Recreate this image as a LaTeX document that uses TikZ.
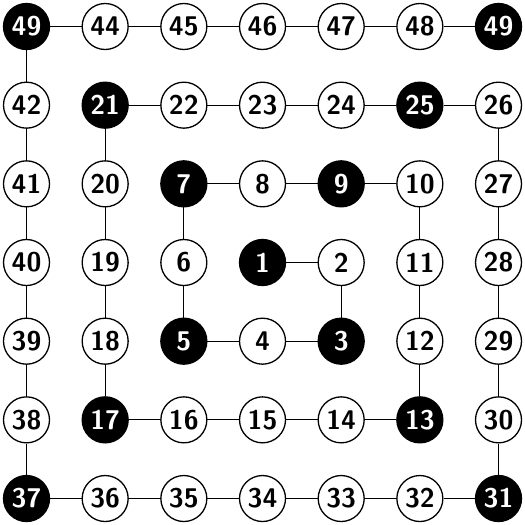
\documentclass[tikz,border=0pt]{standalone}
\begin{document}
\begin{tikzpicture}[x=1pt,y=-1pt,
  cell/.style={circle,draw=black,line width=1.3pt,minimum size=46pt,inner sep=0pt,
    font=\sffamily\bfseries\fontsize{27}{27}\selectfont},
  wn/.style={cell,fill=white,text=black},
  bn/.style={cell,fill=black,text=white},
  link/.style={line width=1.2pt}]
\useasboundingbox (0,0) rectangle (525,525);
\def\s{78.67}
\foreach \c/\r/\l/\n/\t in {
  0/0/49/n49a/bn, 1/0/44/n44/wn, 2/0/45/n45/wn, 3/0/46/n46/wn, 4/0/47/n47/wn, 5/0/48/n48/wn, 6/0/49/n49b/bn,
  0/1/42/n42/wn, 1/1/21/n21/bn, 2/1/22/n22/wn, 3/1/23/n23/wn, 4/1/24/n24/wn, 5/1/25/n25/bn, 6/1/26/n26/wn,
  0/2/41/n41/wn, 1/2/20/n20/wn, 2/2/7/n7/bn, 3/2/8/n8/wn, 4/2/9/n9/bn, 5/2/10/n10/wn, 6/2/27/n27/wn,
  0/3/40/n40/wn, 1/3/19/n19/wn, 2/3/6/n6/wn, 3/3/1/n1/bn, 4/3/2/n2/wn, 5/3/11/n11/wn, 6/3/28/n28/wn,
  0/4/39/n39/wn, 1/4/18/n18/wn, 2/4/5/n5/bn, 3/4/4/n4/wn, 4/4/3/n3/bn, 5/4/12/n12/wn, 6/4/29/n29/wn,
  0/5/38/n38/wn, 1/5/17/n17/bn, 2/5/16/n16/wn, 3/5/15/n15/wn, 4/5/14/n14/wn, 5/5/13/n13/bn, 6/5/30/n30/wn,
  0/6/37/n37/bn, 1/6/36/n36/wn, 2/6/35/n35/wn, 3/6/34/n34/wn, 4/6/33/n33/wn, 5/6/32/n32/wn, 6/6/31/n31/bn}
  { \node[\t] (\n) at ({26.5+\c*\s},{26.5+\r*\s}) {\l}; }
\foreach \i [evaluate=\i as \j using int(\i+1)] in {1,...,41}
  { \draw[link] (n\i) -- (n\j); }
\draw[link] (n42) -- (n49a);
\draw[link] (n49a) -- (n44);
\foreach \i [evaluate=\i as \j using int(\i+1)] in {44,...,47}
  { \draw[link] (n\i) -- (n\j); }
\draw[link] (n48) -- (n49b);
\end{tikzpicture}
\end{document}
